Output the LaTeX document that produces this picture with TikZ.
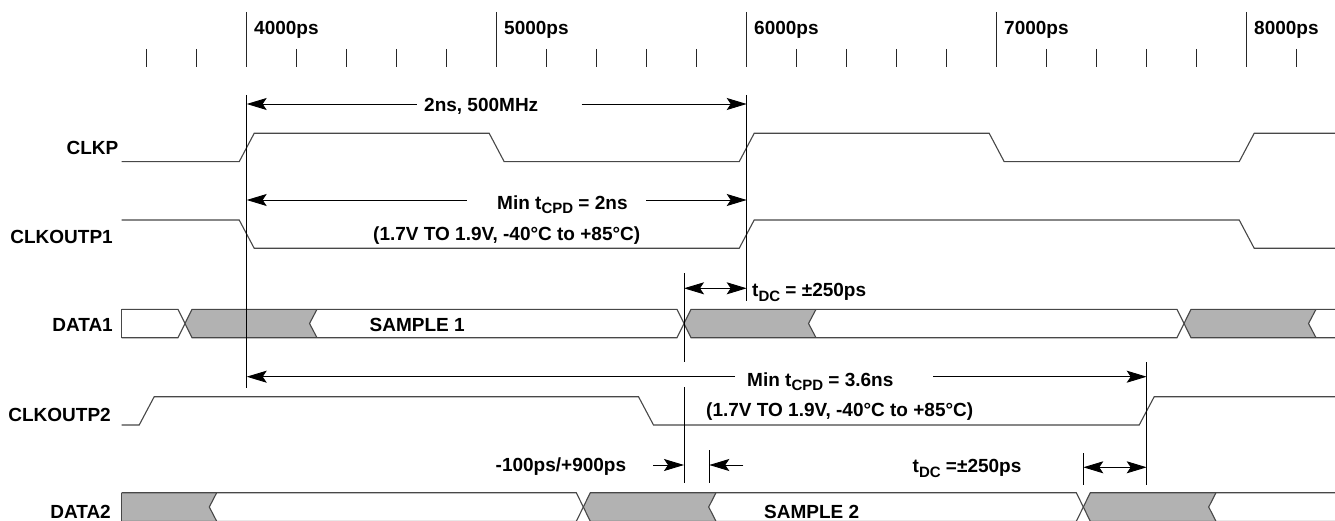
\documentclass[tikz,border=0pt]{standalone}
\usepackage{fontspec}
\setmainfont{Liberation Sans}
\usetikzlibrary{arrows.meta}
\newcommand\subtx[1]{\raisebox{-4.5pt}{\fontsize{15}{15}\selectfont #1}}
\begin{document}
\begin{tikzpicture}[x=1pt,y=-1pt,
  lbl/.style={font=\fontsize{19}{19}\selectfont\bfseries, inner sep=0pt},
  sig/.style={draw=black!72, line width=1.1pt, line join=miter},
  guide/.style={draw=black, line width=0.9pt},
  tick/.style={draw=black!85, line width=1pt},
  dim/.style={draw=black, line width=0.9pt, -{Stealth[length=20pt,width=12pt,inset=4pt]}},
  dimboth/.style={draw=black, line width=0.9pt, {Stealth[length=20pt,width=12pt,inset=4pt]}-{Stealth[length=20pt,width=12pt,inset=4pt]}},
  busfill/.style={fill=black!30}]
\useasboundingbox (0,0) rectangle (1335,521);

% ---------- time axis ----------
\foreach \i in {0,...,23} {\draw[tick] (146.7+50*\i,49) -- (146.7+50*\i,66.7);}
\foreach \i/\t in {0/4000,1/5000,2/6000,3/7000,4/8000} {
  \draw[tick] (246.7+250*\i,12) -- (246.7+250*\i,66.7);
  \node[lbl,anchor=base west] (t\t) at (254+250*\i,34.3) {\t ps};
}

% ---------- signal labels ----------
\node[lbl,anchor=base east] (lclkp) at (118.5,155) {CLKP};
\node[lbl,anchor=base east] (lco1) at (113,243.3) {CLKOUTP1};
\node[lbl,anchor=base east] (ld1) at (113,331) {DATA1};
\node[lbl,anchor=base east] (lco2) at (111,421.7) {CLKOUTP2};
\node[lbl,anchor=base east] (ld2) at (111,518.3) {DATA2};

% ---------- CLKP ----------
\draw[sig] (121.7,161.7) -- (239.2,161.7) -- (254.2,133.3) -- (489.2,133.3) -- (504.2,161.7)
  -- (739.2,161.7) -- (754.2,133.3) -- (989.2,133.3) -- (1004.2,161.7) -- (1239.2,161.7)
  -- (1254.2,133.3) -- (1336,133.3);

% ---------- CLKOUTP1 ----------
\draw[sig] (121.7,220) -- (239.2,220) -- (254.2,248.3) -- (739.2,248.3) -- (754.2,220)
  -- (1239.2,220) -- (1254.2,248.3) -- (1336,248.3);

% ---------- CLKOUTP2 ----------
\draw[sig] (121.7,425) -- (139.2,425) -- (154.2,396.7) -- (638.5,396.7) -- (653.5,425)
  -- (1139.2,425) -- (1154.2,396.7) -- (1336,396.7);

% ---------- DATA1 ----------
\foreach \c in {185,684,1184} {
  \fill[busfill] (\c,323.5) -- (\c+7,309.3) -- (\c+132,309.3) -- (\c+124.5,323.5)
    -- (\c+132,337.7) -- (\c+7,337.7) -- cycle;
  \draw[sig] (\c+132,309.3) -- (\c+124.5,323.5) -- (\c+132,337.7);
}
\draw[sig] (121.7,309.3) -- (178,309.3) -- (192,337.7) -- (677,337.7) -- (691,309.3)
  -- (1177,309.3) -- (1191,337.7) -- (1336,337.7);
\draw[sig] (121.7,337.7) -- (178,337.7) -- (192,309.3) -- (677,309.3) -- (691,337.7)
  -- (1177,337.7) -- (1191,309.3) -- (1336,309.3);
\draw[sig] (121.7,309.3) -- (121.7,337.7);
\node[lbl,anchor=base west] (s1) at (369.5,331) {SAMPLE 1};

% ---------- DATA2 ----------
\fill[busfill] (121.7,492.7) -- (216.7,492.7) -- (209.3,507) -- (216.7,521.3) -- (121.7,521.3) -- cycle;
\draw[sig] (216.7,492.7) -- (209.3,507) -- (216.7,521.3);
\foreach \c in {583.3,1083.3} {
  \fill[busfill] (\c,507) -- (\c+7,492.7) -- (\c+132.7,492.7) -- (\c+125.4,507)
    -- (\c+132.7,521.3) -- (\c+7,521.3) -- cycle;
  \draw[sig] (\c+132.7,492.7) -- (\c+125.4,507) -- (\c+132.7,521.3);
}
\draw[sig] (121.7,492.7) -- (576.3,492.7) -- (590.3,521.3) -- (1076.3,521.3) -- (1090.3,492.7) -- (1336,492.7);
\draw[sig] (121.7,521.3) -- (576.3,521.3) -- (590.3,492.7) -- (1076.3,492.7) -- (1090.3,521.3) -- (1336,521.3);
\draw[sig] (121.7,492.7) -- (121.7,521.3);
\node[lbl,anchor=base west] (s2) at (764,518.3) {SAMPLE 2};

% ---------- guide lines ----------
\coordinate (g1t) at (246.7,95);   \coordinate (g1b) at (246.7,388);
\coordinate (g2t) at (746.7,95);   \coordinate (g2b) at (746.7,301);
\coordinate (g3t) at (684,273.3);  \coordinate (g3b) at (684,362);
\coordinate (g3u) at (684,387);    \coordinate (g3v) at (684,483.3);
\coordinate (g4t) at (1146.7,362); \coordinate (g4b) at (1146.7,485);
\coordinate (g5t) at (709.3,450);  \coordinate (g5b) at (709.3,483.3);
\coordinate (g6t) at (1083.3,453.3); \coordinate (g6b) at (1083.3,485);
\draw[guide] (g1t) -- (g1b);
\draw[guide] (g2t) -- (g2b);
\draw[guide] (g3t) -- (g3b);
\draw[guide] (g3u) -- (g3v);
\draw[guide] (g4t) -- (g4b);
\draw[guide] (g5t) -- (g5b);
\draw[guide] (g6t) -- (g6b);

% ---------- 2ns, 500MHz ----------
\node[lbl,anchor=base west] (per) at (424,112) {2ns, 500MHz};
\draw[dim] (416.7,104) -- (246.7,104);
\draw[dim] (581.7,104) -- (746.7,104);

% ---------- Min tCPD = 2ns ----------
\node[lbl,anchor=base west] (cpd1) at (497,209.3) {Min t\subtx{CPD} = 2ns};
\node[lbl,anchor=base west] (cond1) at (373,240.7) {(1.7V TO 1.9V, -40°C to +85°C)};
\draw[dim] (466.7,200) -- (246.7,200);
\draw[dim] (646,200) -- (746.7,200);

% ---------- tDC (DATA1) ----------
\draw[dimboth] (684,288.3) -- (746.7,288.3);
\node[lbl,anchor=base west] (tdc1) at (752,296.7) {t\subtx{DC} = ±250ps};

% ---------- Min tCPD = 3.6ns ----------
\node[lbl,anchor=base west] (cpd2) at (747,386) {Min t\subtx{CPD} = 3.6ns};
\node[lbl,anchor=base west] (cond2) at (706,416.7) {(1.7V TO 1.9V, -40°C to +85°C)};
\draw[dim] (735,376.7) -- (246.7,376.7);
\draw[dim] (933,376.7) -- (1146.7,376.7);

% ---------- -100ps/+900ps ----------
\node[lbl,anchor=base west] (skew) at (495.5,471.7) {-100ps/+900ps};
\draw[dim] (653.3,465) -- (684,465);
\draw[dim] (743.3,465) -- (709.3,465);

% ---------- tDC (DATA2) ----------
\node[lbl,anchor=base west] (tdc2) at (912.5,472.5) {t\subtx{DC} =±250ps};
\draw[dimboth] (1083.3,467.3) -- (1146.7,467.3);
\end{tikzpicture}
\end{document}
